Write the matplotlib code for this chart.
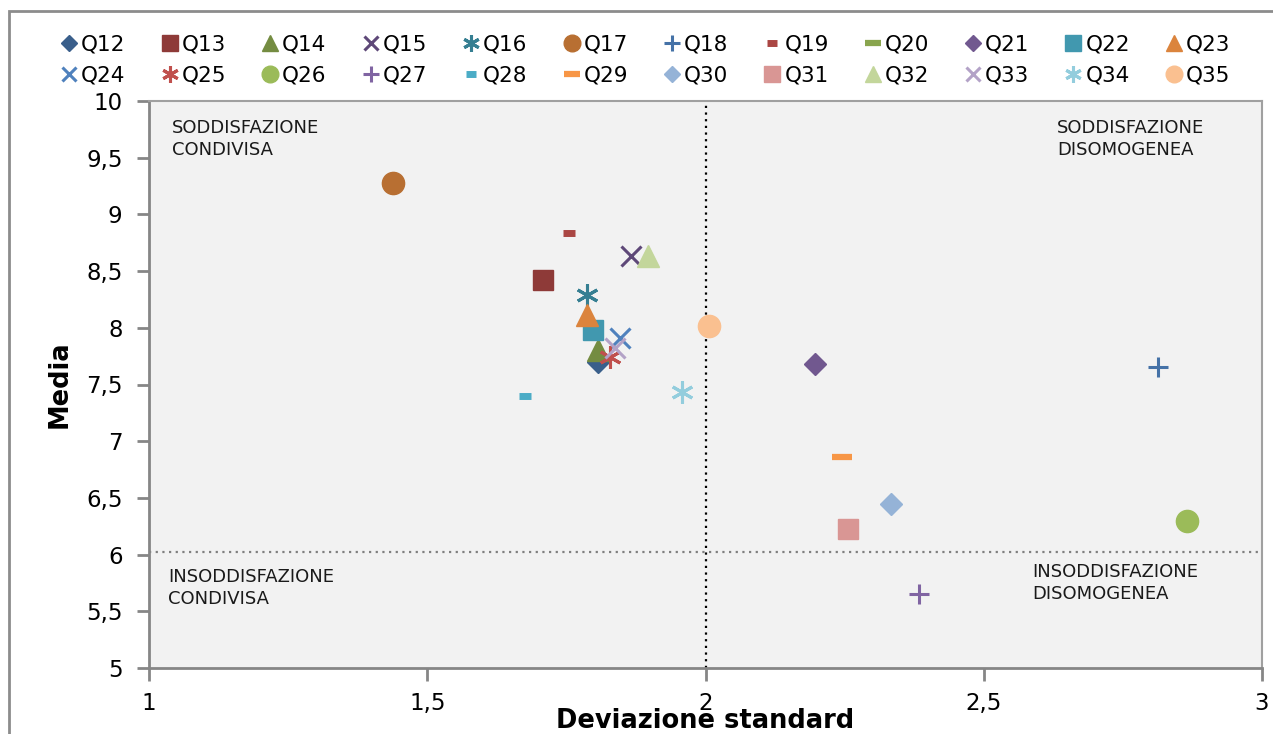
import numpy as np
import matplotlib
matplotlib.use('Agg')
import matplotlib.pyplot as plt
from matplotlib.ticker import FuncFormatter
from matplotlib.patches import Rectangle

# dati
domande = ['Q12', 'Q13', 'Q14', 'Q15', 'Q16', 'Q17', 'Q18', 'Q19', 'Q20', 'Q21', 'Q22', 'Q23',
           'Q24', 'Q25', 'Q26', 'Q27', 'Q28', 'Q29', 'Q30', 'Q31', 'Q32', 'Q33', 'Q34', 'Q35']
dev_std = [1.807, 1.708, 1.807, 1.866, 1.787, 1.438, 2.813, 1.755, np.nan, 2.197, 1.798, 1.787,
           1.846, 1.828, 2.865, 2.384, 1.676, 2.245, 2.333, 2.256, 1.897, 1.837, 1.958, 2.006]
media = [7.70, 8.42, 7.80, 8.63, 8.29, 9.28, 7.65, 8.84, np.nan, 7.68, 7.98, 8.11,
         7.91, 7.74, 6.30, 5.65, 7.40, 6.86, 6.45, 6.23, 8.63, 7.82, 7.43, 8.02]
soglia_media = 6.02
soglia_dev = 2.0

colori = ['#3A5F8B', '#8E3A38', '#748C41', '#5E4878', '#367F92', '#B86F32',
          '#4572A7', '#AA4643', '#89A54E', '#71588F', '#4198AF', '#DB843D',
          '#4F81BD', '#C0504D', '#9BBB59', '#8064A2', '#4BACC6', '#F79646',
          '#95B3D7', '#D99694', '#C3D69B', '#B3A2C7', '#93CDDD', '#FAC090']
# ciclo dei marker di Excel
ciclo = ['D', 's', '^', 'x', 'ast', 'o', '+', 'dash', 'longdash']

plt.rcParams['font.family'] = ['DejaVu Sans']

fig = plt.figure(figsize=(12.73, 7.34), dpi=100)
ax = fig.add_axes([149/1273, 1-668/734, (1262-149)/1273, (668-101)/734])
ax.set_facecolor('#F2F2F2')

# cornice esterna del grafico
fig.patches.append(Rectangle((9/1273, -0.1), 1.2, 1-11/734+0.1, transform=fig.transFigure,
                             fill=False, edgecolor='#8C8C8C', linewidth=2, zorder=0))

for i, q in enumerate(domande):
    m = ciclo[i % 9]
    kw = dict(color=colori[i], linestyle='none', label=q, zorder=3)
    if m == 'D':
        kw.update(marker='D', markersize=11)
    elif m == 's':
        kw.update(marker='s', markersize=15)
    elif m == '^':
        kw.update(marker='^', markersize=16)
    elif m == 'x':
        kw.update(marker='x', markersize=14, markeredgewidth=2.2)
    elif m == 'ast':
        kw.update(marker=(6, 2, 0), markersize=16, markeredgewidth=2.2)
    elif m == 'o':
        kw.update(marker='o', markersize=16)
    elif m == '+':
        kw.update(marker='+', markersize=15, markeredgewidth=2.2)
    elif m == 'dash':
        kw.update(marker='_', markersize=9, markeredgewidth=5)
    elif m == 'longdash':
        kw.update(marker='_', markersize=15, markeredgewidth=4.5)
    ax.plot([dev_std[i]], [media[i]], **kw)

ax.axvline(soglia_dev, color='black', linestyle=(0, (1, 2)), linewidth=1.6, zorder=2)
ax.axhline(soglia_media, color='#7F7F7F', linestyle=(0, (1, 2)), linewidth=1.6, zorder=2)

ax.set_xlim(1, 3)
ax.set_ylim(5, 10)
ax.set_xticks([1, 1.5, 2, 2.5, 3])
ax.set_yticks(np.arange(5, 10.01, 0.5))
fmt = FuncFormatter(lambda v, p: ('%g' % v).replace('.', ','))
ax.xaxis.set_major_formatter(fmt)
ax.yaxis.set_major_formatter(fmt)
ax.tick_params(axis='both', color='#868686', width=2, length=9, direction='out')
ax.tick_params(axis='x', labelsize=16.5, pad=8)
ax.tick_params(axis='y', labelsize=16.5, pad=10)
for s in ['left', 'bottom']:
    ax.spines[s].set_color('#868686')
    ax.spines[s].set_linewidth(2)
for s in ['top', 'right']:
    ax.spines[s].set_color('#A0A0A0')
    ax.spines[s].set_linewidth(1.5)

ax.set_xlabel('Deviazione standard', fontsize=18.5, fontweight='bold', labelpad=-5)
ax.set_ylabel('Media', fontsize=18.5, fontweight='bold', labelpad=10)

tq = dict(fontsize=13, color='#1A1A1A', va='top', linespacing=1.3)
ax.text(1.041, 9.84, 'SODDISFAZIONE\nCONDIVISA', ha='left', **tq)
ax.text(2.632, 9.84, 'SODDISFAZIONE\nDISOMOGENEA', ha='left', **tq)
ax.text(1.034, 5.88, 'INSODDISFAZIONE\nCONDIVISA', ha='left', **tq)
ax.text(2.587, 5.93, 'INSODDISFAZIONE\nDISOMOGENEA', ha='left', **tq)

# legenda in ordine per righe
handles, labels = ax.get_legend_handles_labels()
ordine = [k for j in range(12) for k in (j, j + 12)]
fig.legend([handles[k] for k in ordine], [labels[k] for k in ordine],
           loc='center', bbox_to_anchor=(0.507, 1-60/734), ncol=12,
           frameon=False, fontsize=15.5, markerscale=0.75, handlelength=0.8,
           handletextpad=0.15, columnspacing=1.65, labelspacing=0.5, borderpad=0)

fig.savefig('out.png', dpi=100)
